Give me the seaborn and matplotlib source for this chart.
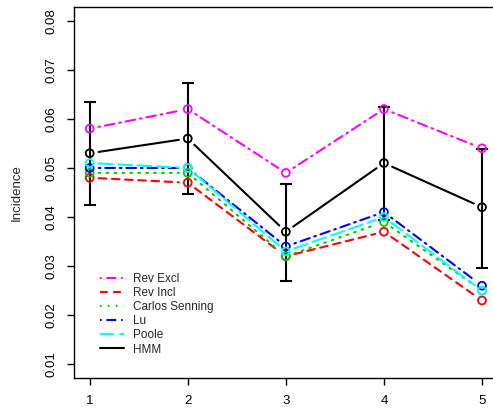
import matplotlib
matplotlib.use("Agg")
import matplotlib.pyplot as plt
from matplotlib.lines import Line2D
import seaborn as sns
import numpy as np

# ---- data ----
x_vals = [1, 2, 3, 4, 5]
rev_excl = [0.058, 0.062, 0.049, 0.062, 0.054]
rev_incl = [0.048, 0.047, 0.032, 0.037, 0.023]
carlos = [0.049, 0.049, 0.032, 0.039, 0.025]
lu = [0.050, 0.050, 0.034, 0.041, 0.026]
poole = [0.051, 0.050, 0.033, 0.040, 0.025]
hmm = [0.053, 0.056, 0.037, 0.051, 0.042]
hmm_lower = [0.0424, 0.0447, 0.0270, 0.0394, 0.0297]
hmm_upper = [0.0635, 0.0673, 0.0467, 0.0624, 0.0539]
series_names = ["Rev Excl", "Rev Incl", "Carlos Senning", "Lu", "Poole", "HMM"]
y_ticks = [0.01, 0.02, 0.03, 0.04, 0.05, 0.06, 0.07, 0.08]

sns.set_style("white")
plt.rcParams["font.family"] = ["Liberation Sans", "DejaVu Sans"]
plt.rcParams["lines.scale_dashes"] = False

colors = ["#FF00FF", "#FF0000", "#00CD00", "#0000FF", "#00FFFF", "#000000"]
dashes = [(0, (1.2, 3.5, 7, 3.5)), (0, (5.5, 4)), (0, (1.2, 4.5)),
          (0, (1.2, 3.5, 7, 3.5)), (0, (10, 4)), "solid"]
data = [rev_excl, rev_incl, carlos, lu, poole, hmm]

fig = plt.figure(figsize=(4.93, 4.11), dpi=100)
ax = fig.add_axes([74 / 493, 1 - 378 / 411, (497.7 - 74) / 493, (378 - 7) / 411])

lw = 1.5
for vals, c, ls in zip(data, colors, dashes):
    for i in range(len(x_vals) - 1):
        ax.annotate("", xy=(x_vals[i + 1], vals[i + 1]), xytext=(x_vals[i], vals[i]),
                    xycoords="data", textcoords="data",
                    arrowprops=dict(arrowstyle="-", shrinkA=6.5, shrinkB=6.5,
                                    color=c, lw=lw, linestyle=ls))
    sns.scatterplot(x=x_vals, y=vals, ax=ax, marker="o", s=32, color=c,
                    facecolor="none", edgecolor=c, linewidth=1.3, legend=False,
                    zorder=3)

ax.errorbar(x_vals, hmm,
            yerr=[np.array(hmm) - np.array(hmm_lower), np.array(hmm_upper) - np.array(hmm)],
            fmt="none", ecolor="black", elinewidth=1.5, capsize=4, capthick=1.5, zorder=2)

ax.set_xlim(0.84, 5.16)
ax.set_ylim(0.01 - 0.04 * 0.07, 0.08 + 0.04 * 0.07)
ax.set_xticks(x_vals)
ax.set_xticklabels([str(v) for v in x_vals])
ax.set_yticks(y_ticks)
ax.set_yticklabels([f"{v:.2f}" for v in y_ticks], rotation=90, va="center")
ax.tick_params(axis="both", direction="out", length=5, width=1, labelsize=9.5,
               colors="black", bottom=True, left=True, pad=7)
ax.set_ylabel("Incidence", fontsize=9.5, labelpad=16)
ax.set_xlabel("")
for s in ax.spines.values():
    s.set_visible(True)
    s.set_color("black")
    s.set_linewidth(1.0)

handles = [Line2D([0], [0], color=c, lw=lw, linestyle=ls) for c, ls in zip(colors, dashes)]
fig.legend(handles, series_names, loc="upper left", bbox_to_anchor=(100 / 493 - 0.0, 1 - 273 / 411),
           bbox_transform=fig.transFigure, frameon=False, fontsize=8.5,
           handlelength=2.0, handletextpad=0.8, labelspacing=0.18, borderpad=0,
           borderaxespad=0)

fig.savefig("out.png", dpi=100)
